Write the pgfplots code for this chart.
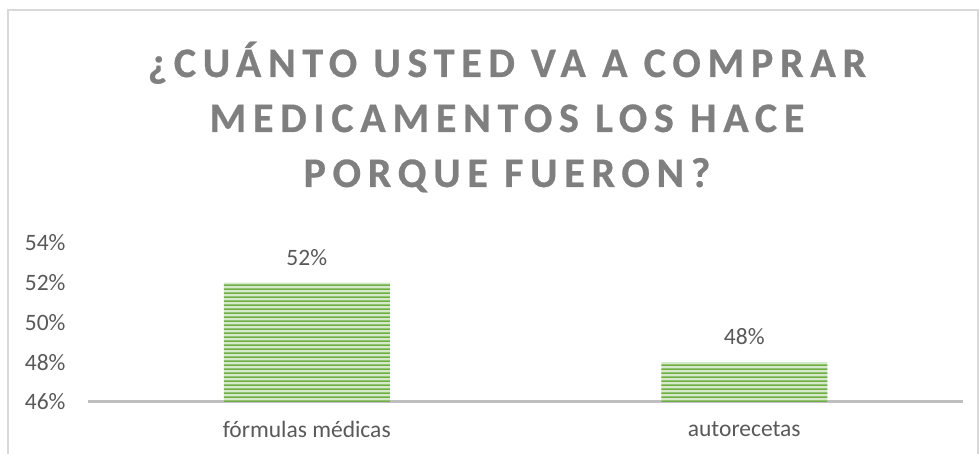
\documentclass[border=0pt]{standalone}
\usepackage{pgfplots}
\pgfplotsset{compat=1.18}
\usetikzlibrary{patterns}
\usepackage{fontspec}
\setmainfont{Carlito}
\newfontfamily\titlefont[LetterSpace=16,BoldFeatures={FakeBold=0.6}]{Carlito}
\definecolor{bargreen}{HTML}{70AD47}
\definecolor{barlight}{HTML}{D5EAC8}
\definecolor{txtgray}{HTML}{595959}
\definecolor{titlegray}{HTML}{7F7F7F}
\definecolor{axgray}{HTML}{BFBFBF}
\definecolor{framegray}{HTML}{D9D9D9}
\pgfdeclarepatternformonly{wide stripes}{\pgfpointorigin}{\pgfqpoint{1200pt}{4pt}}{\pgfqpoint{1200pt}{4pt}}{%
  \pgfpathrectangle{\pgfpointorigin}{\pgfqpoint{1200pt}{2pt}}\pgfusepath{fill}}
\begin{document}
\begin{tikzpicture}
\useasboundingbox (0pt,0pt) rectangle (980pt,454pt);
\coordinate (A) at (88pt,52pt);
\draw[framegray, line width=1.5pt] (8pt,-10pt) -- (8pt,444pt) -- (978pt,444pt) -- (978pt,-10pt);
\node[anchor=base, text=titlegray, font=\titlefont\bfseries\fontsize{42}{50}\selectfont] at (507pt,377pt) {¿CUÁNTO USTED VA A COMPRAR};
\node[anchor=base, text=titlegray, font=\titlefont\bfseries\fontsize{42}{50}\selectfont] at (507pt,322pt) {MEDICAMENTOS LOS HACE};
\node[anchor=base, text=titlegray, font=\titlefont\bfseries\fontsize{42}{50}\selectfont] at (507pt,267pt) {PORQUE FUERON?};
\begin{axis}[
  at={(A)}, anchor=south west, scale only axis,
  width=875pt, height=159pt,
  xmin=-0.5, xmax=1.5, ymin=46, ymax=54,
  xtick={0,1}, xticklabels={fórmulas médicas, autorecetas},
  ytick={46,48,50,52,54}, yticklabels={46\%,48\%,50\%,52\%,54\%},
  axis x line*=bottom, axis y line*=left,
  x axis line style={draw=axgray, line width=3pt, -},
  y axis line style={draw=none},
  major tick length=0pt,
  tick label style={text=txtgray, font=\fontsize{23.5}{28}\selectfont},
  xticklabel style={yshift=-16pt},
  yticklabel style={xshift=-19pt},
  ybar, bar width=166pt,
  clip=false,
  nodes near coords={\pgfmathprintnumber{\pgfplotspointmeta}\%},
  nodes near coords style={text=txtgray, font=\fontsize{23.5}{28}\selectfont, yshift=14pt},
  /pgf/number format/assume math mode=true,
]
\addplot[draw=none, fill=barlight, postaction={pattern=wide stripes, pattern color=bargreen}] coordinates {(0,52) (1,48)};
\end{axis}
\end{tikzpicture}
\end{document}
